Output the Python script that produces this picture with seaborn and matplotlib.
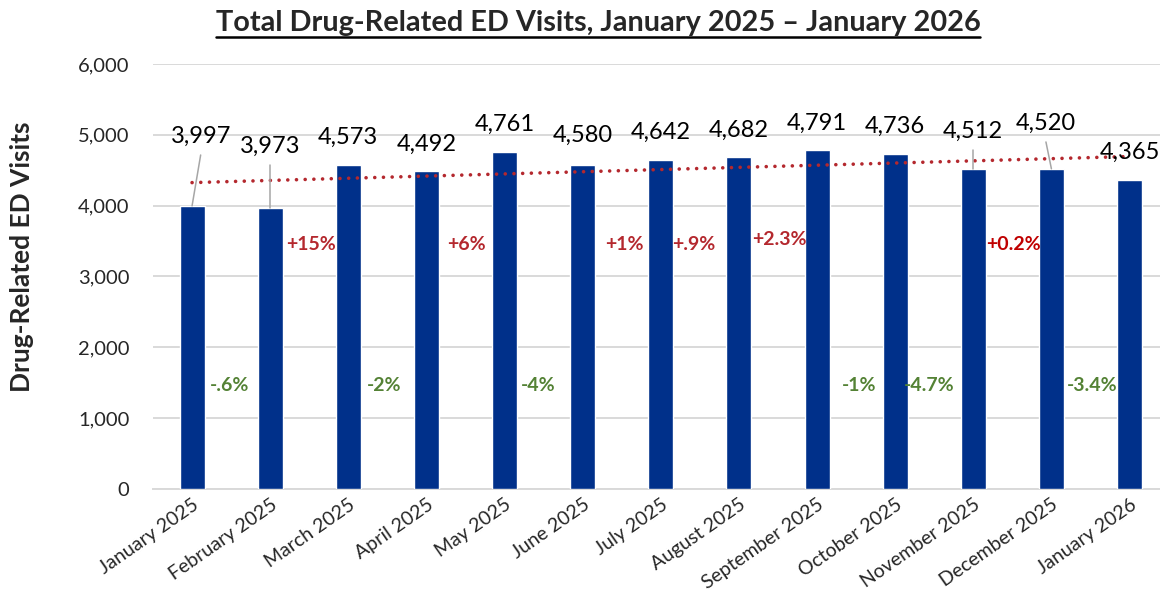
import numpy as np
import pandas as pd
import matplotlib
matplotlib.use("Agg")
import matplotlib.pyplot as plt
import seaborn as sns

# ── Data ───────────────────────────────────────────────────────────────────────
months = ["January 2025", "February 2025", "March 2025", "April 2025", "May 2025",
          "June 2025", "July 2025", "August 2025", "September 2025", "October 2025",
          "November 2025", "December 2025", "January 2026"]
visits = [3997, 3973, 4573, 4492, 4761, 4580, 4642, 4682, 4791, 4736, 4512, 4520, 4365]

pct_labels = ["-.6%", "+15%", "-2%", "+6%", "-4%", "+1%", "+.9%", "+2.3%",
              "-1%", "-4.7%", "+0.2%", "-3.4%"]

# label layout (as placed in the original chart)
pct_x = [0.48, 1.52, 2.46, 3.51, 4.43, 5.53, 6.42, 7.52, 8.54, 9.43, 10.51, 11.52]
value_label_dy = [978, 861, 388, 370, 384, 409, 390, 378, 368, 381, 534, 639, 384]
value_label_dx = [0.11, 0, 0, 0, 0, 0, 0, 0, 0, 0, 0, -0.07, 0]
leader = [True, True, False, False, False, False, False, False, False, False, True, True, False]

NAVY = "#00308A"
RED = "#B4282E"
GREEN = "#548235"
GRID = "#D9D9D9"

df = pd.DataFrame({"month": months, "visits": visits})

# ── Plot ───────────────────────────────────────────────────────────────────────
sns.set_style("white")
plt.rcParams["font.family"] = ["Lato", "DejaVu Sans"]

fig = plt.figure(figsize=(11.6, 5.94), dpi=100)
ax = fig.add_axes([0.1319, 0.1768, 0.8681, 0.7155])

sns.barplot(data=df, x="month", y="visits", color=NAVY, saturation=1,
            width=0.32, ax=ax, zorder=3)

# linear trend
xs = np.arange(len(visits))
slope, icpt = np.polyfit(xs, visits, 1)
ax.plot(xs, slope * xs + icpt, color=RED, lw=2.6, linestyle=(0, (0.01, 2.4)),
        dash_capstyle="round", zorder=4)

# value labels
for i, v in enumerate(visits):
    lx, ly = i + value_label_dx[i], v + value_label_dy[i]
    ax.text(lx, ly, f"{v:,}", ha="center", va="center", fontsize=17,
            color="black", zorder=6)
    if leader[i]:
        ax.plot([lx, i], [ly - 260, v], color="#A6A6A6", lw=1.1, zorder=5)

# month-over-month changes
for i, lab in enumerate(pct_labels):
    up = lab.startswith("+")
    col = ("#C00000" if lab == "+0.2%" else RED) if up else GREEN
    y = 3519 if lab == "+2.3%" else (3449 if up else 1456)
    ax.text(pct_x[i], y, lab, ha="center", va="center",
            fontsize=14, fontweight="bold", color=col, zorder=6)

ax.set_xlim(-0.5, 12.39)
ax.set_ylim(0, 6000)
ax.set_yticks(range(0, 6001, 1000))
ax.yaxis.set_major_formatter(matplotlib.ticker.FuncFormatter(lambda v, p: f"{int(v):,}"))
ax.grid(axis="y", color=GRID, lw=1.4, zorder=0)
ax.set_axisbelow(True)
sns.despine(ax=ax, left=True, right=True, top=True)
ax.spines["bottom"].set_color(GRID)
ax.spines["bottom"].set_linewidth(1.4)
ax.tick_params(axis="y", length=0, pad=17, labelsize=14.5)
ax.tick_params(axis="x", length=0, pad=5, labelsize=14)
plt.setp(ax.get_xticklabels(), rotation=35, ha="right", va="top", rotation_mode="anchor")

ax.set_xlabel("")
ax.set_ylabel("Drug-Related ED Visits", fontsize=19, fontweight="bold")
ax.yaxis.set_label_coords(-0.118, 0.546)

title = fig.text(0.5155, 0.962, "Total Drug-Related ED Visits, January 2025 \u2013 January 2026",
                 ha="center", va="center", fontsize=20.8, fontweight="bold")

# underline the title
fig.canvas.draw()
bb = title.get_window_extent()
uy = bb.y0 - 1
fig.add_artist(plt.Line2D([bb.x0 / fig.bbox.width, bb.x1 / fig.bbox.width],
                          [uy / fig.bbox.height] * 2, color="black", lw=1.8,
                          transform=fig.transFigure))

fig.savefig("out.png", dpi=100)
